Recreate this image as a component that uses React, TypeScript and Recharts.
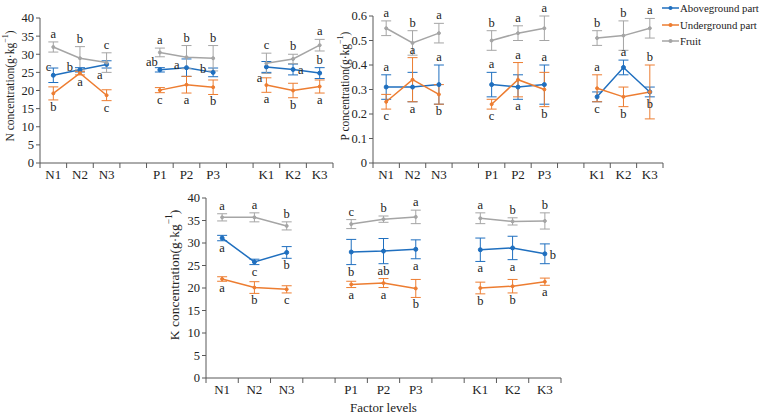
import React from 'react';
import { LineChart, Line, XAxis, YAxis, ErrorBar, LabelList } from 'recharts';

const FONT = 'Liberation Serif, DejaVu Serif, serif';

// x slots, blank slots split the three factor groups
const categories = ['N1', 'N2', 'N3', '', 'P1', 'P2', 'P3', '', 'K1', 'K2', 'K3'];
const seriesNames = ['Aboveground part', 'Underground part', 'Fruit'];
const seriesColors = ['#1f6fbf', '#ed7d31', '#a5a5a5'];

// N concentration (g/kg)
const nAbove = [24.2, 25.7, 27.2, null, 25.7, 26.3, 25.0, null, 26.5, 25.8, 24.8];
const nAboveErr = [2.0, 0.6, 1.0, null, 0.6, 2.4, 1.2, null, 1.5, 1.5, 1.5];
const nUnder = [19.2, 24.8, 18.7, null, 20.1, 21.6, 20.9, null, 21.5, 20.0, 21.1];
const nUnderErr = [1.8, 0.5, 1.5, null, 0.7, 2.3, 2.0, null, 2.0, 2.0, 1.8];
const nFruit = [32.0, 28.9, 27.7, null, 30.5, 29.2, 28.9, null, 27.5, 28.7, 32.5];
const nFruitErr = [1.4, 3.2, 2.7, null, 1.2, 3.2, 3.5, null, 2.8, 1.3, 1.6];
const nAboveSig = ['c', 'b', 'a', '', 'ab', 'a', 'b', '', 'a', 'a', 'b'];
const nUnderSig = ['b', 'a', 'c', '', 'c', 'a', 'b', '', 'a', 'b', 'a'];
const nFruitSig = ['a', 'b', 'c', '', 'a', 'b', 'b', '', 'c', 'b', 'a'];

// P concentration (g/kg)
const pAbove = [0.31, 0.31, 0.32, null, 0.32, 0.31, 0.32, null, 0.27, 0.39, 0.29];
const pAboveErr = [0.05, 0.06, 0.08, null, 0.05, 0.05, 0.08, null, 0.02, 0.03, 0.02];
const pUnder = [0.25, 0.34, 0.28, null, 0.24, 0.34, 0.30, null, 0.305, 0.27, 0.29];
const pUnderErr = [0.03, 0.09, 0.04, null, 0.02, 0.07, 0.07, null, 0.055, 0.04, 0.11];
const pFruit = [0.55, 0.49, 0.53, null, 0.50, 0.53, 0.55, null, 0.51, 0.52, 0.55];
const pFruitErr = [0.03, 0.05, 0.04, null, 0.04, 0.03, 0.05, null, 0.03, 0.06, 0.04];
const pAboveSig = ['a', 'a', 'a', '', 'a', 'a', 'a', '', 'c', 'a', 'b'];
const pUnderSig = ['c', 'a', 'b', '', 'c', 'a', 'b', '', 'a', 'b', 'b'];
const pFruitSig = ['a', 'b', 'a', '', 'b', 'a', 'a', '', 'b', 'b', 'a'];

// K concentration (g/kg)
const kAbove = [31.1, 25.8, 27.9, null, 28.0, 28.2, 28.6, null, 28.5, 28.9, 27.6];
const kAboveErr = [0.6, 0.6, 1.3, null, 2.8, 2.8, 2.1, null, 2.6, 2.6, 2.2];
const kUnder = [22.0, 20.1, 19.7, null, 20.8, 21.1, 19.9, null, 20.0, 20.4, 21.4];
const kUnderErr = [0.5, 1.3, 0.8, null, 0.7, 1.0, 2.0, null, 1.3, 1.5, 0.8];
const kFruit = [35.7, 35.7, 33.8, null, 34.2, 35.3, 35.8, null, 35.5, 34.8, 34.9];
const kFruitErr = [0.8, 1.0, 0.9, null, 1.0, 0.7, 1.5, null, 1.2, 0.8, 1.8];
const kAboveSig = ['a', 'c', 'b', '', 'b', 'ab', 'a', '', 'a', 'a', 'b'];
const kUnderSig = ['a', 'b', 'c', '', 'a', 'a', 'b', '', 'b', 'b', 'a'];
const kFruitSig = ['a', 'a', 'b', '', 'c', 'b', 'a', '', 'a', 'b', 'b'];

const nTicks = [0, 5, 10, 15, 20, 25, 30, 35, 40];
const pTicks = [0, 0.1, 0.2, 0.3, 0.4, 0.5, 0.6];
const kTicks = [0, 5, 10, 15, 20, 25, 30, 35, 40];

// where each significance letter sits relative to its point
const T = 'top', B = 'bottom', L = 'left', UL = 'upLeft', DL = 'downLeft', R = 'right';
const nAbovePos = [UL, L, DL, '', UL, L, L, '', DL, R, T];
const pAbovePos = [T, B, T, '', T, B, T, '', B, T, B];
const pUnderPos = [B, T, B, '', B, T, B, '', T, B, T];
const kAbovePos = [B, B, B, '', B, B, B, '', B, B, R];
const allTop = categories.map(c => (c ? T : ''));
const allBottom = categories.map(c => (c ? B : ''));

type Series = { values: (number | null)[]; errors: (number | null)[]; sig: string[]; pos: string[] };

const AXIS = '#595959';

const sigLabel = (s: Series, ppu: number) => (props: any) => {
  const { x, y, index } = props;
  const text = s.sig[index];
  if (!text || x == null || y == null) return null;
  const e = (s.errors[index] ?? 0) * ppu;
  let tx = x;
  let ty = y;
  let anchor: 'middle' | 'end' | 'start' = 'middle';
  switch (s.pos[index]) {
    case 'top': ty = y - e - 4; break;
    case 'bottom': ty = y + e + 11; break;
    case 'left': tx = x - 7; ty = y + 1; anchor = 'end'; break;
    case 'upLeft': tx = x - 2; ty = y - 4; anchor = 'end'; break;
    case 'downLeft': tx = x - 4; ty = y + 15; anchor = 'end'; break;
    case 'right': tx = x + 5; ty = y + 5; anchor = 'start'; break;
  }
  return (
    <text x={tx} y={ty} textAnchor={anchor} fontSize={12.5} fontFamily={FONT} fill="#222">
      {text}
    </text>
  );
};

function Panel(props: {
  left: number; top: number; width: number; height: number;
  margin: { top: number; right: number; bottom: number; left: number };
  yMax: number; yTicks: number[]; element: string; series: Series[];
  labelX: number; labelY: number; labelSize: number; xTitle?: string;
}) {
  const { left, top, width, height, margin, yMax, yTicks, element, series, labelX, labelY, labelSize, xTitle } = props;
  const xAxisHeight = xTitle ? 34 : 20;
  const plotH = height - margin.top - margin.bottom - xAxisHeight;
  const plotW = width - margin.left - margin.right - 30;
  const ppu = plotH / yMax;
  const slot = plotW / categories.length;

  const rows = categories.map((c, i) => {
    const r: any = { pos: i + 0.5 };
    series.forEach((s, k) => {
      r['v' + k] = s.values[i];
      r['e' + k] = s.errors[i];
      r['s' + k] = s.sig[i];
    });
    return r;
  });

  const renderTick = (p: any) => {
    const i = p.payload.value;
    if (i >= categories.length) return null;
    return (
      <text x={p.x + slot / 2} y={p.y + 9} textAnchor="middle" fontSize={13} fontFamily={FONT} fill="#222">
        {categories[i]}
      </text>
    );
  };

  return (
    <div style={{ position: 'absolute', left, top }}>
      <LineChart width={width} height={height} data={rows} margin={margin}>
        <XAxis
          type="number"
          dataKey="pos"
          domain={[0, categories.length]}
          ticks={categories.map((_, i) => i).concat([categories.length])}
          interval={0}
          height={xAxisHeight}
          tickSize={5}
          stroke={AXIS}
          tick={renderTick}
          label={
            xTitle
              ? (lp: any) => (
                  <text
                    x={lp.viewBox.x + lp.viewBox.width / 2}
                    y={lp.viewBox.y + 34}
                    textAnchor="middle"
                    fontSize={13}
                    fontFamily={FONT}
                    fill="#222"
                  >
                    {xTitle}
                  </text>
                )
              : undefined
          }
        />
        <YAxis
          type="number"
          domain={[0, yMax]}
          ticks={yTicks}
          interval={0}
          width={30}
          tickSize={4}
          stroke={AXIS}
          tick={{ fontSize: 12.5, fontFamily: FONT, fill: '#222' }}
          label={() => (
            <text
              x={labelX}
              y={labelY}
              transform={`rotate(-90 ${labelX} ${labelY})`}
              textAnchor="middle"
              dominantBaseline="central"
              fontSize={labelSize}
              fontFamily={FONT}
              fill="#222"
            >
              {element} concentration(g·kg
              <tspan dy={-labelSize * 0.4} fontSize={labelSize * 0.7}>−1</tspan>
              <tspan dy={labelSize * 0.4}>)</tspan>
            </text>
          )}
        />
        {series.map((s, k) => (
          <Line
            key={k}
            dataKey={'v' + k}
            stroke={seriesColors[k]}
            strokeWidth={1.5}
            dot={{ r: k === 0 ? 2 : 1.5, fill: seriesColors[k], stroke: seriesColors[k], strokeWidth: 1 }}
            activeDot={false}
            isAnimationActive={false}
          >
            <ErrorBar dataKey={'e' + k} direction="y" width={5} strokeWidth={1} stroke={seriesColors[k]} />
            <LabelList dataKey={'s' + k} content={sigLabel(s, ppu)} />
          </Line>
        ))}
      </LineChart>
    </div>
  );
}

function LegendBox() {
  return (
    <div style={{ position: 'absolute', left: 662, top: 0, fontFamily: FONT, fontSize: 10.8, color: '#222' }}>
      {seriesNames.map((name, k) => (
        <div key={name} style={{ display: 'flex', alignItems: 'center', height: 16.5, whiteSpace: 'nowrap' }}>
          <svg width={17} height={8} style={{ marginRight: 1 }}>
            <line x1={0} y1={4} x2={17} y2={4} stroke={seriesColors[k]} strokeWidth={1.5} />
            <circle cx={8.5} cy={4} r={2} fill={seriesColors[k]} />
          </svg>
          {name}
        </div>
      ))}
    </div>
  );
}

export default function App() {
  const nSeries: Series[] = [
    { values: nAbove, errors: nAboveErr, sig: nAboveSig, pos: nAbovePos },
    { values: nUnder, errors: nUnderErr, sig: nUnderSig, pos: allBottom },
    { values: nFruit, errors: nFruitErr, sig: nFruitSig, pos: allTop },
  ];
  const pSeries: Series[] = [
    { values: pAbove, errors: pAboveErr, sig: pAboveSig, pos: pAbovePos },
    { values: pUnder, errors: pUnderErr, sig: pUnderSig, pos: pUnderPos },
    { values: pFruit, errors: pFruitErr, sig: pFruitSig, pos: allTop },
  ];
  const kSeries: Series[] = [
    { values: kAbove, errors: kAboveErr, sig: kAboveSig, pos: kAbovePos },
    { values: kUnder, errors: kUnderErr, sig: kUnderSig, pos: allBottom },
    { values: kFruit, errors: kFruitErr, sig: kFruitSig, pos: allTop },
  ];

  return (
    <div style={{ position: 'absolute', left: 0, top: 0, width: 763, height: 417, background: '#fff', overflow: 'hidden' }}>
      <Panel
        left={0} top={0} width={345} height={185}
        margin={{ top: 18, right: 12, bottom: 2, left: 10 }}
        yMax={40} yTicks={nTicks} element="N" series={nSeries}
        labelX={10} labelY={86} labelSize={11.5}
      />
      <Panel
        left={330} top={0} width={345} height={185}
        margin={{ top: 16, right: 12, bottom: 2, left: 13 }}
        yMax={0.6} yTicks={pTicks} element="P" series={pSeries}
        labelX={15} labelY={86} labelSize={11.5}
      />
      <Panel
        left={160} top={180} width={420} height={237}
        margin={{ top: 18, right: 19, bottom: 5, left: 16 }}
        yMax={40} yTicks={kTicks} element="K" series={kSeries}
        labelX={14} labelY={95} labelSize={13.5}
        xTitle="Factor levels"
      />
      <LegendBox />
    </div>
  );
}
